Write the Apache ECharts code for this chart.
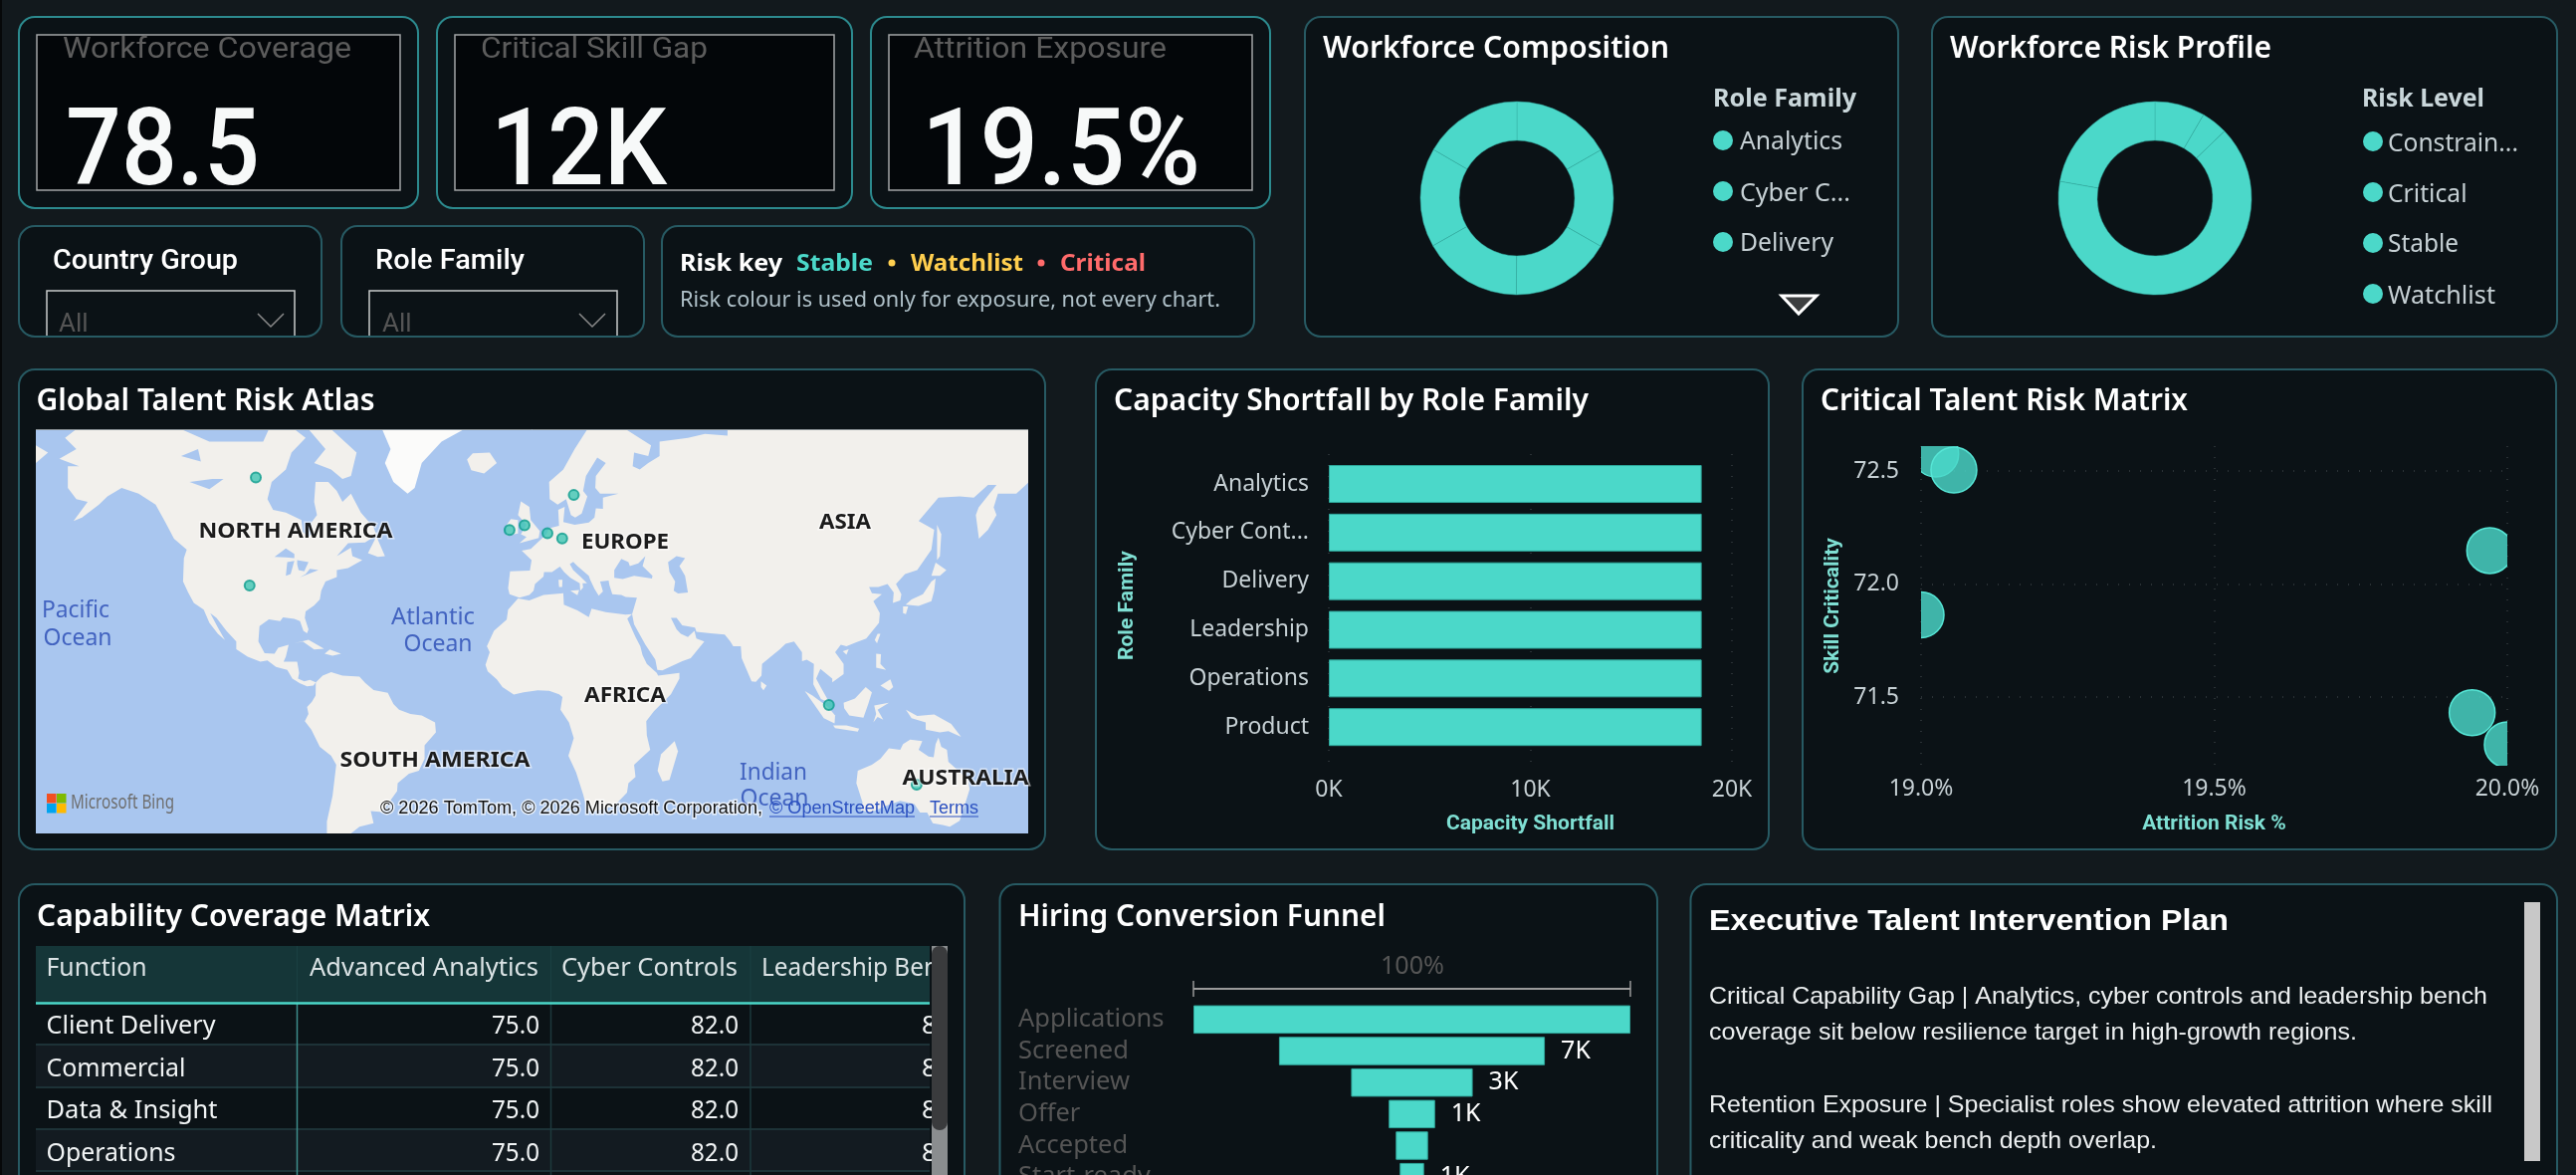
<!DOCTYPE html>
<html>
<head>
<meta charset="utf-8">
<title>Talent Risk Dashboard</title>
<script src="https://cdn.jsdelivr.net/npm/echarts@6/dist/echarts.min.js"></script>
<style>
html,body{margin:0;padding:0;background:#12191d;overflow:hidden}
#board{width:2588px;height:1180px}
</style>
</head>
<body>
<div id="board"></div>
<script>
// ---- Chart data ----
const roleFamilies = ['Analytics', 'Cyber Cont...', 'Delivery', 'Leadership', 'Operations', 'Product'];
const capacityShortfall = [18500, 18500, 18500, 18500, 18500, 18500];
const compositionShare = [16.7, 16.6, 16.8, 16.7, 16.6, 16.6];
const riskLevels = ['Constrained', 'Critical', 'Stable', 'Watchlist'];
const riskShare = [8.4, 4.4, 65, 22.2];
const attritionRisk = [19.025, 19.056, 19.97, 19.0, 19.94, 20.0];
const skillCriticality = [72.575, 72.504, 72.148, 71.863, 71.431, 71.289];
const funnelStages = ['Applications', 'Screened', 'Interview', 'Offer', 'Accepted', 'Start-ready'];
const funnelCounts = [11500, 7000, 3200, 1220, 850, 640];
const funnelLabelled = [false, true, true, true, false, true];
const tableFunctions = ['Client Delivery', 'Commercial', 'Data & Insight', 'Operations'];
const advancedAnalytics = ['75.0', '75.0', '75.0', '75.0'];
const cyberControls = ['82.0', '82.0', '82.0', '82.0'];

// Talent locations as [longitude, latitude]
const talentSites = [
  [-98.6, 62.75], [-100.8, 39.4], [-9.0, 52.9], [-3.7, 53.9], [4.4, 52.25],
  [9.6, 51.1], [13.7, 59.76], [103.8, 0.7], [134.8, -26.5]
];

// Simplified coastlines in longitude / latitude, trimmed to the visible window
const viewWest = -176.3, viewEast = 174.2, viewNorth = 69.6, viewSouth = -40.8;
const northAmerica = [[-166,68.5],[-162,69.6],[-125,69.6],[-115,68],[-108,68],[-96,68],[-94,69.6],[-85,69.6],[-81,68.5],[-86,66.5],[-88,64],[-93,62],[-94.5,59],[-92.5,57],[-88,56.5],[-82.5,55],[-82,52.5],[-80,51.3],[-79,52],[-79,54.5],[-77,56],[-78,58.5],[-77.5,62],[-73,62],[-70,60.5],[-68,58.5],[-65,60],[-61.5,56.5],[-57,53.5],[-56,51.8],[-60,50.2],[-66,50],[-70,47],[-65,49],[-64.5,47],[-61,46],[-66,44],[-70,43.5],[-70,41.7],[-74,40.5],[-75.5,38],[-76,35.5],[-78,33.8],[-81,32],[-81.3,30],[-80,26.5],[-80.5,25.2],[-81.8,26],[-83,29],[-85,29.7],[-89,30.2],[-90,29],[-94,29.6],[-97.3,27.5],[-97.7,22.5],[-95.5,18.7],[-92,18.5],[-90.7,20.5],[-87,21.5],[-88,17.5],[-88.8,15.8],[-84,15.8],[-83.3,12],[-83.7,10],[-81.5,9],[-79.5,9.5],[-77.4,8.7],[-78.3,7.5],[-80.5,7.3],[-83,8.3],[-85.7,10],[-87.5,13],[-91.5,14],[-94.5,16.2],[-97,15.8],[-101.5,17.5],[-105.5,20],[-105.5,22.5],[-109,26],[-112.5,30],[-114.7,31.5],[-112,27],[-109.5,23],[-112,25],[-115,28.5],[-117,32.5],[-120.5,34.5],[-122.5,37.5],[-124.3,40.5],[-124,46.5],[-123,48.5],[-127.5,51],[-130.5,54.5],[-134,58],[-140,60],[-146,61],[-151,59.5],[-154,58],[-160,55.5],[-163,54.8],[-158,58.5],[-162,59],[-165,61],[-165,64.5],[-161,64.5],[-168,65.6],[-162,67]];
const southAmerica = [[-77.4,8.7],[-75,11],[-72,12.2],[-68,11],[-62,10.7],[-60,8.5],[-57,6],[-52,5],[-50,1],[-48,-1],[-44,-2.5],[-40,-3],[-35.3,-5.5],[-35,-9],[-39,-13.5],[-39,-18],[-41,-22],[-44.5,-23],[-48.5,-26],[-48.7,-28.5],[-52,-32.5],[-54,-34.8],[-58,-34.5],[-57,-38],[-62,-39],[-65,-40.8],[-73.5,-40.8],[-73.5,-37.5],[-71.5,-30],[-70.2,-20],[-72,-17],[-76,-14],[-79,-8],[-81.3,-5],[-80,-2.5],[-80.5,0],[-78.8,1.8],[-77.5,4]];
const africa = [[-6,35.8],[-2,35.2],[3,36.8],[10,37.3],[10.2,34],[15,32.3],[19,30.3],[20,32.8],[25,31.8],[32,31],[34.3,31.2],[32.6,29.8],[34,27],[35.5,24],[37.2,21],[38,18],[39.5,15],[43,12],[43.5,11],[51,12],[51,10],[48,4.5],[42,-1.5],[39.3,-5],[39.5,-10],[40.7,-15],[35,-20],[35.5,-24],[33,-26],[32.5,-29],[28,-33],[20,-34.8],[18.3,-33.8],[17,-29.5],[14.5,-22.5],[11.8,-17],[13.7,-11],[12,-5.5],[9,-1],[9.7,3.5],[8.5,4.5],[5,5.7],[1,5.9],[-4,5.2],[-7.5,4.4],[-11.5,7],[-13.5,9.7],[-16.7,12.5],[-17.5,14.7],[-16,19],[-17,21],[-14.5,26],[-10,29.5],[-9.5,32.5]];
const eurasia = [[-9,37],[-9.5,38.7],[-8.8,43.2],[-1.8,43.4],[-1.2,46],[-4.7,48.3],[-1.5,48.7],[1.5,50.5],[4,52],[5,53.3],[8.5,53.8],[8.2,57],[10.5,57.6],[10,54.6],[14,54],[19,54.5],[21,55.5],[21.5,57.3],[24,57.2],[24,59.3],[29.5,60],[23,60],[21.3,61],[21.5,63],[25,65],[22,65.8],[18,63],[17,60.5],[18.5,59.5],[16.5,56.3],[14.2,55.5],[12.7,56],[11,59],[8,58],[5.2,59],[5,62],[10,64],[14,67],[18.5,69.6],[32,69.6],[41,67.5],[40,66],[35,66.5],[34.5,64.5],[37,64],[40,65],[44,66],[44,68],[54,68.5],[60,69],[68,68.8],[68,69.6],[174.2,69.6],[174.2,61.9],[170,60],[163.5,60],[162,57.5],[163,56],[160,53],[156.8,51],[155.7,56],[156.7,57.5],[163,61.5],[160,61.5],[155,59.3],[150,59.5],[142.5,59.3],[135.5,54.8],[141,53],[140,48.5],[135,43.5],[130.7,42.5],[127.5,39.8],[129.4,37],[129,35.2],[126.4,34.5],[126.7,37.5],[124.5,39.8],[121.3,39],[118,39],[119,37.3],[122.5,37],[119.5,35],[121.8,31.5],[121.5,28.5],[117,23.5],[113.5,22.3],[110,21],[108,21.5],[106,19],[109,15],[109,11.5],[105,8.7],[105,10],[100.8,13.3],[99.3,10],[101,6.8],[104,1.5],[101,2.8],[98.3,8],[98.5,15],[96,16.5],[94.3,16],[94.3,19],[91.5,22.5],[88.5,21.8],[86.5,20],[82,16.5],[80.2,15],[80,11],[78,8.8],[76.5,9],[73,17],[72.7,21],[70,21],[69,22.5],[67,24.8],[62,25.2],[57,25.7],[56.5,27],[52,27.7],[50,30],[48,30],[50,26.5],[51.5,25],[54,24],[56.3,26],[57,23.5],[59.8,22.5],[55,17],[52,16],[45,12.8],[43.2,13],[42.5,16.5],[39,21.5],[35,28],[34.3,31.2],[36,36],[32,36.2],[30.5,36.8],[27.3,37],[26.3,39.5],[26,40.8],[23,40.5],[24,37.8],[22.5,36.6],[21,38.5],[19.5,41],[19,42],[15,44.5],[13.5,45.6],[12.3,45],[13.5,43.5],[16,41.8],[18.4,40],[16.8,40],[17,38.9],[16,38],[15.8,40],[12.5,41.5],[10.3,43],[8.8,44.4],[6,43],[3.2,43],[3,41.8],[0,39.8],[-0.5,38],[-2,36.8],[-5.5,36]];
const australia = [[114,-22],[113.5,-26],[115.7,-32],[115,-34.3],[118.5,-35],[124,-33],[129,-31.5],[134,-32.5],[136,-35],[138.5,-35],[140.5,-38],[144,-38.5],[146.5,-39],[150,-37.3],[151.5,-33.5],[153.5,-28],[153,-25],[149.5,-22],[146,-19],[145.5,-15],[143.5,-14],[142.5,-10.8],[141.5,-13],[140.8,-17.5],[139,-17.3],[135.5,-15],[136.8,-12],[132.5,-11.5],[130,-13],[129,-15],[125,-14.5],[122,-18],[119,-20]];
const greenland = [[-54,69.6],[-51,67],[-53,65],[-50,62],[-45,60],[-42.5,61],[-40,65],[-33,68],[-25,69.6]];
const smallerIslands = [
  [[-24,65.5],[-22,66.4],[-16,66.5],[-13.5,65],[-18,63.4],[-22.5,63.9]],
  [[-80,69.6],[-72,69.6],[-63,66.5],[-65,63],[-68,62.5],[-72,64],[-78,65],[-74,67]],
  [[-59,47.7],[-56,51.5],[-53,47],[-55.5,46.8]],
  [[-85,22],[-80,23.1],[-74.5,20.2],[-78,19.9],[-82,22.5]],
  [[-74.3,18.5],[-72.5,19.9],[-68.5,18.5],[-71.5,17.8]],
  [[-5.5,50],[1.3,51.2],[1.7,52.7],[-1.5,55],[-2,57.6],[-5,58.6],[-6,56],[-3,54],[-5,52],[-3,51.4]],
  [[-10,51.7],[-6,52.2],[-6,55],[-8.5,55.2],[-10,54]],
  [[12.5,38],[15.6,38.2],[15,36.7]],
  [[8.3,41],[9.7,41],[9.6,39],[8.5,39]],
  [[49.3,-12],[50.5,-15.5],[47.5,-25],[45,-25.5],[43.3,-22],[44.5,-16.5]],
  [[79.8,9],[81.8,7.5],[80.7,5.9],[79.8,7]],
  [[130.9,34],[135.5,33.6],[140,35],[141,38],[141.5,41.3],[140,40.5],[137,37],[133,35.5]],
  [[140,42],[141.5,45.4],[145.3,43.5],[143,42]],
  [[130,33.5],[131.8,33.5],[131,31.2],[130,31.5]],
  [[121,25],[122,25],[120.8,22],[120,23]],
  [[142,46],[142,54],[143.5,52],[143,47]],
  [[108.7,19.3],[110.8,20],[110,18.2]],
  [[120.5,18.5],[122.2,18.3],[122,15],[124,13],[120.5,13.8]],
  [[122,7.5],[125.5,9.7],[126.5,7],[125,5.7]],
  [[109,1.5],[113,3],[116.8,7],[119,5.2],[117.7,1],[116,-3.8],[111,-3],[109.2,-0.5]],
  [[95.3,5.6],[98,4],[103.5,0],[106,-3],[105.8,-5.8],[102,-4],[98.5,1]],
  [[105.3,-6.5],[110,-6.5],[114.5,-7.7],[114,-8.7],[106,-7.5]],
  [[119.5,-5.5],[120.5,-2.5],[119.8,0.5],[125,1.5],[121,-1],[123,-4.5],[121,-3.5]],
  [[131,-1],[135,-3.2],[141,-2.7],[147,-6],[150.5,-10.5],[146,-8.5],[143,-9],[138,-8],[138,-5.5],[133,-4]],
  [[-176.3,67.5],[-172,66.5],[-176.3,65]]
];
const inlandWaters = [
  [[28,41.5],[28,43.5],[30.5,46.3],[33,45.5],[33.5,44.5],[36.5,45.2],[39,47],[38,44.5],[41.5,42],[41.3,41.3],[35,42],[31,41.2]],
  [[47,45.5],[50,47],[53,46.5],[51,44.5],[53,42],[54,37.5],[50.5,37.2],[49,38],[49.5,40.5],[47.5,43]],
  [[-92,46.8],[-88,48.8],[-85,47.5],[-85,46.5],[-88,46.7]],
  [[-88,42],[-87.5,45.5],[-85,45.8],[-86.3,42.5]],
  [[-84,46],[-80,45.5],[-81.5,43.2],[-83.5,43.5],[-84,45]],
  [[-83,41.6],[-79,42.8],[-76.5,43.5],[-79.5,43.8],[-81,42.5]],
  [[-122,62],[-114,62.5],[-110,62.5],[-115,60.8]],
  [[-125,66],[-119,67],[-118,65.2]]
];

// ---- Palette ----
const teal = '#4bd8c9', tealTitle = '#7fdfd3', pageBg = '#12191d', panelBg = '#0b1216';
const borderBright = '#2c8a8e', borderDim = '#275a63', axisText = '#c6d0d4', gridDot = '#2a3135';
const sans = '"Noto Sans", sans-serif', din = 'Roboto, sans-serif', arial = '"Liberation Sans", Arial, sans-serif';

// ---- Helpers for the card furniture ----
const meter = document.createElement('canvas').getContext('2d');
const els = [];
function box(x, y, w, h, r, fill, stroke, lw, z) {
  els.push({type:'rect', z: z || 0, silent:true, shape:{x, y, width:w, height:h, r},
    style:{fill, stroke: stroke || 'none', lineWidth: lw || 0}});
}
// Text placed by its baseline; a target width squeezes the run to a given measure
function txt(text, x, baseline, size, fill, o) {
  o = o || {};
  const font = (o.weight || 400) + ' ' + size + 'px ' + (o.family || sans);
  meter.font = font; meter.textBaseline = 'middle';
  const m = meter.measureText(text);
  const drop = m.alphabeticBaseline != null ? m.alphabeticBaseline : -0.3 * size;
  els.push({type:'text', z: o.z == null ? 5 : o.z, silent:true, x, y: baseline + drop,
    scaleX: o.w ? o.w / m.width : 1,
    style:{text, font, fill, textAlign: o.align || 'left', verticalAlign:'middle',
      stroke: o.halo || undefined, lineWidth: o.halo ? 3 : 0}});
}
function dot(cx, cy, r, fill, z) {
  els.push({type:'circle', z: z || 5, silent:true, shape:{cx, cy, r}, style:{fill}});
}
function line(pts, stroke, lw, z) {
  els.push({type:'polyline', z: z == null ? 5 : z, silent:true, shape:{points:pts}, style:{stroke, lineWidth:lw, fill:'none'}});
}

// Page edge
box(0, 0, 2, 1180, 0, '#060809');

// KPI cards
[
  [19, 401, 37, 365, 'Workforce Coverage', 63, 290, '78.5', 66, 195],
  [439, 417, 457, 381, 'Critical Skill Gap', 483, 228, '12K', 493, 177],
  [875, 401, 893, 365, 'Attrition Exposure', 918, 254, '19.5%', 926, 280]
].forEach(([cx, cw, ix, iw, label, lx, lw, value, vx, vw]) => {
  box(cx, 17, cw, 192, 16, panelBg, borderBright, 2);
  box(ix, 35, iw, 156, 0, '#030609', '#a3a5a6', 1.5);
  txt(label, lx, 58, 30, '#5c5c5c', {family:din, w:lw});
  txt(value, vx, 185, 108, '#f7f9f9', {family:din, weight:500, w:vw});
});

// Slicer cards
[
  [19, 304, 'Country Group', 53, 186, 47, 59, 259],
  [343, 304, 'Role Family', 377, 150, 371, 384, 582]
].forEach(([cx, cw, label, lx, lw, bx, ax, chev]) => {
  box(cx, 227, cw, 111, 16, panelBg, borderDim, 2);
  txt(label, lx, 270, 27, '#ffffff', {family:din, weight:500, w:lw});
  line([[bx, 337], [bx, 292], [bx + 249, 292], [bx + 249, 337]], '#c9cbcc', 1.5);
  txt('All', ax, 333, 26, '#555555', {family:din});
  line([[chev, 315], [chev + 13, 328], [chev + 26, 315]], '#8a8a8a', 1.5);
});

// Risk key card
box(665, 227, 595, 111, 16, panelBg, borderDim, 2);
txt('Risk key', 683, 272, 24, '#ffffff', {weight:700, w:103});
txt('Stable', 800, 272, 24, teal, {weight:700, w:77});
dot(896, 264, 3.5, '#ffd050');
txt('Watchlist', 915, 272, 24, '#ffce4e', {weight:700, w:113});
dot(1046, 264, 3.5, '#ff6b6b');
txt('Critical', 1065, 272, 24, '#ff6b6b', {weight:700, w:86});
txt('Risk colour is used only for exposure, not every chart.', 683, 308, 21, '#afc0c8', {w:543});

// Donut cards with their legends
box(1311, 17, 596, 321, 16, panelBg, borderDim, 2);
txt('Workforce Composition', 1329, 58, 30, '#ffffff', {weight:600, w:348});
txt('Role Family', 1721, 107, 25, '#c9d6da', {weight:700, w:144});
[['Analytics', 141, 150, 103], ['Cyber C...', 192, 202, 111], ['Delivery', 243, 252, 94]].forEach(([t, cy, base, w]) => {
  dot(1731, cy, 10, teal);
  txt(t, 1748, base, 25, axisText, {w});
});
els.push({type:'polygon', z:5, silent:true, shape:{points:[[1790, 297], [1825, 297], [1807, 315]]},
  style:{fill:'#3d3f40', stroke:'#ffffff', lineWidth:3}});

box(1941, 17, 628, 321, 16, panelBg, borderDim, 2);
txt('Workforce Risk Profile', 1959, 58, 30, '#ffffff', {weight:600, w:323});
txt('Risk Level', 2373, 107, 25, '#c9d6da', {weight:700, w:123});
[['Constrain...', 142, 152, 131], ['Critical', 193, 203, 79.5], ['Stable', 244, 253, 71], ['Watchlist', 295, 305, 108]].forEach(([t, cy, base, w]) => {
  dot(2384, cy, 10, teal);
  txt(t, 2399, base, 25, axisText, {w});
});

// Middle row cards
box(19, 371, 1031, 482, 16, panelBg, borderDim, 2);
txt('Global Talent Risk Atlas', 36.5, 412, 30, '#ffffff', {weight:600, w:340});
box(1101, 371, 676, 482, 16, panelBg, borderDim, 2);
txt('Capacity Shortfall by Role Family', 1119, 412, 30, '#ffffff', {weight:600, w:477});
box(1811, 371, 757, 482, 16, panelBg, borderDim, 2);
txt('Critical Talent Risk Matrix', 1829, 412, 30, '#ffffff', {weight:600, w:369});

// Map annotations
[['NORTH AMERICA', 297, 540, 195], ['EUROPE', 628, 551, 88], ['ASIA', 849, 531, 52], ['AFRICA', 628, 705, 82],
 ['SOUTH AMERICA', 437, 770, 191], ['AUSTRALIA', 970, 788, 127]].forEach(([t, x, base, w]) => {
  txt(t, x, base, 22, '#1c1c1c', {weight:700, align:'center', w, z:6, halo:'rgba(255,255,255,0.55)'});
});
[['Pacific', 76, 620, 68], ['Ocean', 78, 648, 69], ['Atlantic', 435, 627, 84], ['Ocean', 440, 654, 69], ['Indian', 777, 783, 68], ['Ocean', 778, 809, 69]].forEach(([t, x, base, w]) => {
  txt(t, x, base, 24, '#4263c0', {align:'center', w, z:6});
});
line([[36, 431.5], [1033, 431.5]], '#8d9499', 1, 6);
box(47, 797, 9.5, 9.5, 0, '#f25022', null, 0, 6);
box(57, 797, 9.5, 9.5, 0, '#7fba00', null, 0, 6);
box(47, 807, 9.5, 9.5, 0, '#00a4ef', null, 0, 6);
box(57, 807, 9.5, 9.5, 0, '#ffb900', null, 0, 6);
txt('Microsoft Bing', 71, 812, 19, '#6e6e6e', {w:104, z:6});
txt('© 2026 TomTom, © 2026 Microsoft Corporation,', 382, 817, 18, '#111111', {family:arial, w:384, z:6, halo:'rgba(255,255,255,0.7)'});
txt('© OpenStreetMap', 773, 817, 18, '#2b50c0', {family:arial, w:146, z:6});
line([[773, 820], [919, 820]], '#2b50c0', 1, 6);
txt('Terms', 934, 817, 18, '#2b50c0', {family:arial, w:49, z:6});
line([[934, 820], [983, 820]], '#2b50c0', 1, 6);

// Coverage table
box(19, 888, 950, 400, 16, panelBg, borderDim, 2);
txt('Capability Coverage Matrix', 37, 930, 30, '#ffffff', {weight:600, w:395});
box(36, 950, 898, 57, 0, '#153638');
box(36, 1049, 898, 43, 0, '#131b21');
box(36, 1134, 898, 42, 0, '#131b21');
[1049, 1092, 1134, 1176].forEach(y => line([[36, y], [934, y]], '#1d3237', 2));
[553.5, 754].forEach(x => {
  line([[x, 950], [x, 1007]], '#1a4042', 1);
  line([[x, 1007], [x, 1180]], '#1d3a3d', 1.5);
});
line([[298.5, 950], [298.5, 1007]], '#1a4042', 1);
line([[298.5, 1007], [298.5, 1180]], '#3e8f8c', 1.5);
line([[36, 1007.5], [934, 1007.5]], teal, 2.5);
txt('Function', 46.5, 980, 25, '#dbe3e5', {w:101});
txt('Advanced Analytics', 311, 980, 25, '#dbe3e5', {w:230});
txt('Cyber Controls', 564, 980, 25, '#dbe3e5', {w:177});
txt('Leadership Ben', 765, 980, 25, '#dbe3e5', {w:178});
const rowBaselines = [1038, 1081, 1123, 1166];
const rowWidths = [170, 140, 172, 130];
tableFunctions.forEach((name, i) => {
  txt(name, 46.5, rowBaselines[i], 25, '#f1f4f5', {w:rowWidths[i]});
  txt(advancedAnalytics[i], 542, rowBaselines[i], 25, '#f1f4f5', {align:'right', w:48});
  txt(cyberControls[i], 742, rowBaselines[i], 25, '#f1f4f5', {align:'right', w:48});
  txt('8', 926, rowBaselines[i], 25, '#f1f4f5', {w:15});
});
box(936, 950, 16, 240, 0, '#8a8d8f', null, 0, 7);
box(936, 950, 16, 185, 8, '#3a3b3d', null, 0, 7);

// Funnel card
box(1004.5, 888, 660.5, 400, 16, panelBg, borderDim, 2);
txt('Hiring Conversion Funnel', 1023, 930, 30, '#ffffff', {weight:600, w:369});
txt('100%', 1419, 978, 26, '#555555', {align:'center', w:64});
line([[1199, 993], [1638, 993]], '#9a9a9a', 2);
line([[1199, 985], [1199, 1001]], '#9a9a9a', 1.5);
line([[1638, 985], [1638, 1001]], '#9a9a9a', 1.5);

// Narrative card
box(1698.5, 888, 870.5, 400, 16, panelBg, borderDim, 2);
txt('Executive Talent Intervention Plan', 1717, 934, 30, '#ffffff', {family:arial, weight:700, w:522});
txt('Critical Capability Gap | Analytics, cyber controls and leadership bench', 1717, 1008, 24, '#eceff0', {family:arial, w:782});
txt('coverage sit below resilience target in high-growth regions.', 1717, 1044, 24, '#eceff0', {family:arial, w:651});
txt('Retention Exposure | Specialist roles show elevated attrition where skill', 1717, 1117, 24, '#eceff0', {family:arial, w:787});
txt('criticality and weak bench depth overlap.', 1717, 1153, 24, '#eceff0', {family:arial, w:450});
box(2536, 906, 16, 260, 0, '#c8c8c8');

// ---- Map registration ----
const toFeature = (name, ring) => ({type:'Feature', properties:{name},
  geometry:{type:'Polygon', coordinates:[ring.concat([ring[0]])]}});
const oceanRing = [[viewWest, viewNorth], [viewEast, viewNorth], [viewEast, viewSouth], [viewWest, viewSouth]];
const worldFeatures = [toFeature('Ocean', oceanRing),
  toFeature('North America', northAmerica), toFeature('South America', southAmerica),
  toFeature('Africa', africa), toFeature('Eurasia', eurasia), toFeature('Australia', australia),
  toFeature('Greenland', greenland)];
smallerIslands.forEach((ring, i) => worldFeatures.push(toFeature('Island ' + i, ring)));
inlandWaters.forEach((ring, i) => worldFeatures.push(toFeature('Water ' + i, ring)));
echarts.registerMap('talentWorld', {type:'FeatureCollection', features:worldFeatures});

// Web Mercator at the scale of 1024 px around the world
const mercR = 1024 / (2 * Math.PI);
const mercator = {
  project: ([lon, lat]) => [mercR * lon * Math.PI / 180,
    -mercR * Math.log(Math.tan(Math.PI / 4 + lat * Math.PI / 360))],
  unproject: ([x, y]) => [x / mercR * 180 / Math.PI,
    (2 * Math.atan(Math.exp(-y / mercR)) - Math.PI / 2) * 180 / Math.PI]
};
const oceanColor = '#a9c6ef', landColor = '#f2f0ec';
const waterRegions = [{name:'Ocean', itemStyle:{areaColor:oceanColor}},
  {name:'Greenland', itemStyle:{areaColor:'#fbfbfa'}}];
inlandWaters.forEach((r, i) => waterRegions.push({name:'Water ' + i, itemStyle:{areaColor:oceanColor}}));

// ---- Chart option ----
const kFormat = v => Math.round(v / 1000) + 'K';
const axisTitle = {color:tealTitle, fontFamily:din, fontSize:21, fontWeight:700};
const tickText = {color:axisText, fontFamily:sans, fontSize:23};
const dotted = {show:true, lineStyle:{color:gridDot, type:[1, 10], width:2}};
const bubbleRadius = 23;

const option = {
  backgroundColor: pageBg,
  animation: false,
  graphic: {elements: els},
  geo: {
    map:'talentWorld', projection:mercator, aspectScale:1, roam:false, silent:true, z:1,
    left:36, top:431, width:997, height:406,
    label:{show:false},
    itemStyle:{areaColor:landColor, borderWidth:0},
    emphasis:{disabled:true},
    regions: waterRegions
  },
  grid: [
    {left:1335, top:456, width:405, height:314, outerBoundsMode:'none'},
    {left:1335, top:461.6, width:405, height:293, outerBoundsMode:'none'},
    {left:1930, top:448, width:589, height:321, outerBoundsMode:'none'},
    {left:1199, top:1008, width:439, height:190, outerBoundsMode:'none'}
  ],
  xAxis: [
    {gridIndex:0, type:'value', min:0, max:20000, interval:10000, axisLine:{show:false}, axisTick:{show:false},
     splitLine:dotted, axisLabel:{...tickText, margin:12, formatter:kFormat},
     name:'Capacity Shortfall', nameLocation:'middle', nameGap:47, nameTextStyle:axisTitle},
    {gridIndex:1, type:'value', min:0, max:20000, show:false},
    {gridIndex:2, type:'value', min:19, max:20, interval:0.5, axisLine:{show:false}, axisTick:{show:false},
     splitLine:dotted, axisLabel:{...tickText, margin:12, formatter:v => v.toFixed(1) + '%'},
     name:'Attrition Risk %', nameLocation:'middle', nameGap:48, nameTextStyle:axisTitle},
    {gridIndex:3, type:'value', min:0, max:11500, show:false}
  ],
  yAxis: [
    {gridIndex:0, type:'value', show:false, min:0, max:1},
    {gridIndex:1, type:'category', inverse:true, data:roleFamilies, axisLine:{show:false}, axisTick:{show:false},
     axisLabel:{...tickText, margin:20, padding:[4, 0, 0, 0]},
     name:'Role Family', nameLocation:'middle', nameGap:192, nameRotate:90, nameTextStyle:axisTitle},
    {gridIndex:2, type:'value', min:71.196, max:72.61, axisLine:{show:false},
     axisTick:{show:false, customValues:[71.5, 72, 72.5]}, splitLine:dotted,
     axisLabel:{...tickText, margin:22, padding:[3, 0, 0, 0], customValues:[71.5, 72, 72.5], formatter:v => v.toFixed(1)},
     name:'Skill Criticality', nameLocation:'middle', nameGap:78, nameRotate:90, nameTextStyle:axisTitle},
    {gridIndex:3, type:'category', inverse:true, data:funnelStages, axisLine:{show:false}, axisTick:{show:false},
     axisLabel:{color:'#555555', fontFamily:sans, fontSize:25.5, align:'left', margin:176, interval:0}}
  ],
  series: [
    {type:'pie', center:[1524, 199], radius:[58, 97], startAngle:90, silent:true, label:{show:false}, labelLine:{show:false},
     itemStyle:{color:teal, borderColor:'#35b0a4', borderWidth:0.5},
     data:roleFamilies.map((name, i) => ({name, value:compositionShare[i]}))},
    {type:'pie', center:[2165, 199], radius:[58, 97], startAngle:90, silent:true, label:{show:false}, labelLine:{show:false},
     itemStyle:{color:teal, borderColor:'#35b0a4', borderWidth:0.5},
     data:riskLevels.map((name, i) => ({name, value:riskShare[i]}))},
    {type:'scatter', coordinateSystem:'geo', geoIndex:0, z:4, silent:true, symbolSize:10,
     itemStyle:{color:'#3fc6b4', borderColor:'#0e9c8d', borderWidth:2}, data:talentSites},
    {type:'bar', xAxisIndex:1, yAxisIndex:1, barWidth:38, silent:true,
     itemStyle:{color:teal, borderColor:'#2fa79b', borderWidth:1}, data:capacityShortfall},
    // Bubbles are cut off at the plot edge, so they are drawn with a clipped custom series
    {type:'custom', xAxisIndex:2, yAxisIndex:2, clip:true, silent:true,
     encode:{x:0, y:1},
     renderItem:(params, api) => {
       const c = api.coord([api.value(0), api.value(1)]);
       return {type:'circle', shape:{cx:c[0], cy:c[1], r:bubbleRadius},
         style:{fill:'rgba(75,216,201,0.82)', stroke:'#56e6d6', lineWidth:1.5}};
     },
     data:attritionRisk.map((x, i) => [x, skillCriticality[i]])},
    {type:'bar', xAxisIndex:3, yAxisIndex:3, stack:'funnel', barWidth:28.5, silent:true,
     itemStyle:{color:'transparent'},
     data:funnelCounts.map(v => (funnelCounts[0] - v) / 2)},
    {type:'bar', xAxisIndex:3, yAxisIndex:3, stack:'funnel', barWidth:28.5, silent:true,
     itemStyle:{color:teal, borderColor:'#2fa79b', borderWidth:1},
     label:{show:true, position:'right', distance:16, color:'#ffffff', fontFamily:sans, fontSize:25, padding:[4, 0, 0, 0], formatter:p => kFormat(p.value)},
     data:funnelCounts.map((v, i) => ({value:v, label:{show:funnelLabelled[i]}}))}
  ]
};
echarts.init(document.getElementById('board'), null, {width:2588, height:1180}).setOption(option);
</script>
</body>
</html>
